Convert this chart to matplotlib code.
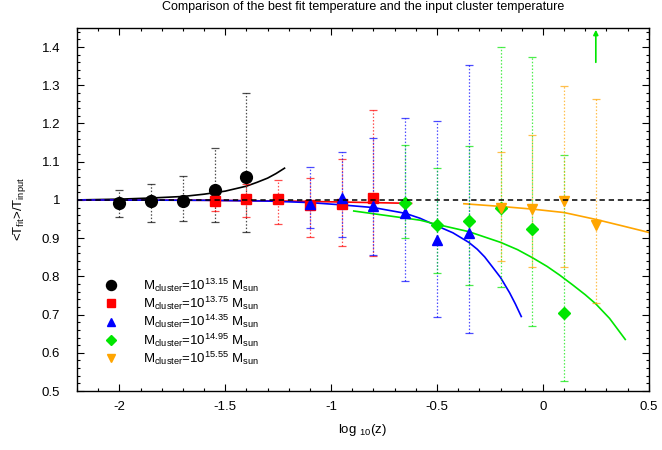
import matplotlib
matplotlib.use("Agg")
import matplotlib.pyplot as plt
from matplotlib.lines import Line2D
from matplotlib.ticker import MultipleLocator, FuncFormatter

plt.rcParams["font.family"] = ["Liberation Sans", "DejaVu Sans"]
plt.rcParams["mathtext.fontset"] = "custom"
plt.rcParams["mathtext.rm"] = "Liberation Sans"
plt.rcParams["mathtext.it"] = "Liberation Sans"

# measured points: log10(z), <T_fit>/T_input, upper and lower bar ends
black_x = [-2.0, -1.85, -1.7, -1.55, -1.4]
black_y = [0.991, 0.996, 0.997, 1.026, 1.059]
black_hi = [1.026, 1.042, 1.063, 1.135, 1.279]
black_lo = [0.956, 0.943, 0.946, 0.941, 0.915]

red_x = [-1.55, -1.4, -1.25, -1.1, -0.95, -0.8]
red_y = [0.997, 1.002, 1.002, 0.986, 0.990, 1.004]
red_hi = [1.024, 1.042, 1.052, 1.057, 1.107, 1.234]
red_lo = [0.971, 0.956, 0.936, 0.904, 0.880, 0.852]

blue_x = [-1.1, -0.95, -0.8, -0.65, -0.5, -0.35]
blue_y = [0.990, 1.004, 0.984, 0.967, 0.894, 0.913]
blue_hi = [1.086, 1.126, 1.161, 1.215, 1.207, 1.353]
blue_lo = [0.926, 0.904, 0.856, 0.789, 0.693, 0.651]

green_x = [-0.65, -0.5, -0.35, -0.2, -0.05, 0.1]
green_y = [0.993, 0.935, 0.945, 0.980, 0.924, 0.703]
green_hi = [1.144, 1.083, 1.140, 1.401, 1.373, 1.118]
green_lo = [0.900, 0.810, 0.777, 0.771, 0.670, 0.525]

orange_x = [-0.2, -0.05, 0.1, 0.25]
orange_y = [0.978, 0.976, 0.996, 0.935]
orange_hi = [1.125, 1.170, 1.297, 1.264]
orange_lo = [0.840, 0.824, 0.825, 0.731]

# fit curves
black_fit_x = [-2.2, -2.0, -1.85, -1.7, -1.6, -1.5, -1.4, -1.35, -1.3, -1.26, -1.22]
black_fit_y = [1.000, 1.002, 1.005, 1.009, 1.015, 1.023, 1.036, 1.046, 1.057, 1.069, 1.083]
red_fit_x = [-2.2, -1.6, -1.2, -0.9, -0.62]
red_fit_y = [1.000, 0.999, 0.997, 0.994, 0.991]
blue_fit_x = [-2.2, -1.6, -1.3, -1.1, -0.95, -0.8, -0.65, -0.58, -0.5,
              -0.425, -0.35, -0.31, -0.275, -0.24, -0.2, -0.157, -0.13, -0.102]
blue_fit_y = [1.000, 0.999, 0.997, 0.993, 0.987, 0.980, 0.965, 0.952, 0.932,
              0.914, 0.889, 0.871, 0.851, 0.826, 0.797, 0.757, 0.728, 0.695]
green_fit_x = [-0.893, -0.58, -0.5, -0.35, -0.2, -0.12, -0.05, 0.02, 0.08,
               0.14, 0.2, 0.25, 0.315, 0.35, 0.389]
green_fit_y = [0.971, 0.947, 0.936, 0.917, 0.889, 0.870, 0.849, 0.826, 0.803,
               0.778, 0.752, 0.728, 0.690, 0.664, 0.635]
orange_fit_x = [-0.373, -0.2, -0.05, 0.1, 0.25, 0.376, 0.5]
orange_fit_y = [0.990, 0.983, 0.976, 0.967, 0.949, 0.932, 0.915]

labels = [r"M$_{\rm cluster}$=10$^{13.15}$ M$_{\rm sun}$",
          r"M$_{\rm cluster}$=10$^{13.75}$ M$_{\rm sun}$",
          r"M$_{\rm cluster}$=10$^{14.35}$ M$_{\rm sun}$",
          r"M$_{\rm cluster}$=10$^{14.95}$ M$_{\rm sun}$",
          r"M$_{\rm cluster}$=10$^{15.55}$ M$_{\rm sun}$"]

series = [
    (black_x, black_y, black_hi, black_lo, black_fit_x, black_fit_y, "black", "o", 8.5),
    (red_x, red_y, red_hi, red_lo, red_fit_x, red_fit_y, "#ff0000", "s", 7.5),
    (blue_x, blue_y, blue_hi, blue_lo, blue_fit_x, blue_fit_y, "#0000ff", "^", 7.5),
    (green_x, green_y, green_hi, green_lo, green_fit_x, green_fit_y, "#00e600", "D", 6),
    (orange_x, orange_y, orange_hi, orange_lo, orange_fit_x, orange_fit_y, "#ffa500", "v", 7.5),
]

fig = plt.figure(figsize=(6.62, 4.5), dpi=100)
ax = fig.add_axes([0.1163, 0.131, 0.8637, 0.807])

handles = []
for x, y, hi, lo, fx, fy, c, m, ms in series:
    yerr = [[yy - l for yy, l in zip(y, lo)], [h - yy for yy, h in zip(y, hi)]]
    eb = ax.errorbar(x, y, yerr=yerr, fmt=m, color=c, ms=ms, mec=c,
                     ecolor=c, elinewidth=0.9, capsize=3, capthick=0.9,
                     zorder=3)
    eb[2][0].set_linestyle((0, (1.2, 1.5)))
    eb[2][0].set_alpha(0.7)
    for cap in eb[1]:
        cap.set_alpha(0.7)
    ax.plot(fx, fy, "-", color=c, lw=1.2, zorder=2)
    handles.append(Line2D([], [], ls="none", marker=m, color=c, mec=c, ms=ms * 0.85))

ax.axhline(1.0, color="black", lw=1.1, ls=(0, (3.5, 2.5)), zorder=4)

# arrow for the point beyond the top of the plot
ax.annotate("", xy=(0.25, 1.445), xytext=(0.25, 1.36),
            arrowprops=dict(arrowstyle="-|>", color="#00e600", lw=1.2,
                            mutation_scale=7, shrinkA=0, shrinkB=0))

ax.set_xlim(-2.2, 0.5)
ax.set_ylim(0.5, 1.45)
ax.xaxis.set_major_locator(MultipleLocator(0.5))
ax.xaxis.set_minor_locator(MultipleLocator(0.1))
ax.yaxis.set_major_locator(MultipleLocator(0.1))
ax.yaxis.set_minor_locator(MultipleLocator(0.02))
fmt = FuncFormatter(lambda v, p: ("%g" % round(v, 2)))
ax.xaxis.set_major_formatter(fmt)
ax.yaxis.set_major_formatter(fmt)
ax.tick_params(which="both", direction="in", top=True, right=True,
               labelsize=9.5, width=0.8)
ax.tick_params(which="major", length=5)
ax.tick_params(axis="x", which="major", pad=7)
ax.tick_params(axis="y", which="major", pad=12)
ax.tick_params(which="minor", length=2.5)
for s in ax.spines.values():
    s.set_linewidth(1.0)

ax.set_xlabel(r"log $_{10}$(z)", fontsize=9.5, labelpad=7)
ax.set_ylabel(r"<T$_{\rm fit}$>/T$_{\rm input}$", fontsize=9.5, labelpad=10)
ax.set_title("Comparison of the best fit temperature and the input cluster temperature",
             fontsize=9, pad=13)

ax.legend(handles, labels, loc="upper left", bbox_to_anchor=(0.037, 0.33),
          frameon=False, fontsize=9.5, handlelength=1.2, handletextpad=1.8,
          labelspacing=0.08, borderaxespad=0)

fig.savefig("out.png", dpi=100)
